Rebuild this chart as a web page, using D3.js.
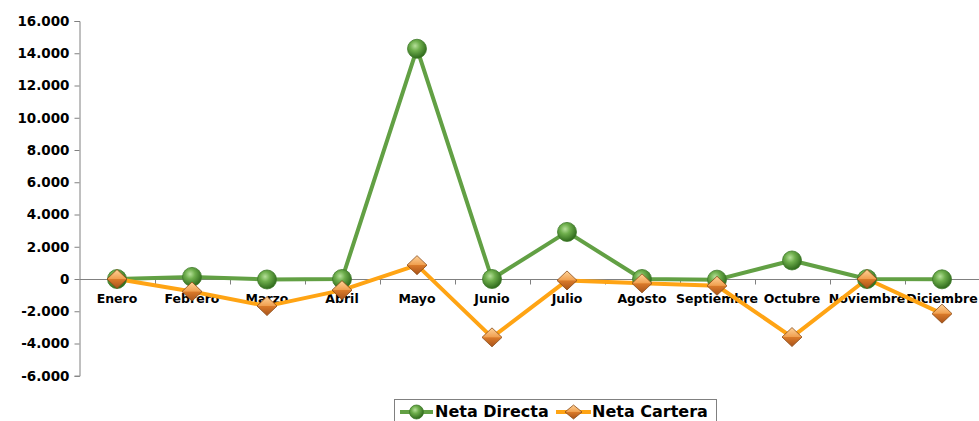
<!DOCTYPE html>
<html><head><meta charset="utf-8">
<script src="https://cdn.jsdelivr.net/npm/d3@7"></script>
<style>body{margin:0;background:#fff}svg{display:block}text{font-family:"DejaVu Sans",Verdana,sans-serif;font-weight:bold;fill:#000}</style>
</head><body><svg id="c" width="979" height="421"></svg>
<script>
const months = ["Enero","Febrero","Marzo","Abril","Mayo","Junio","Julio","Agosto","Septiembre","Octubre","Noviembre","Diciembre"];
const netaDirecta = [0, 130, -30, 0, 14280, 0, 2920, 0, -40, 1150, 0, -20];
const netaCartera = [0, -780, -1680, -690, 860, -3620, -90, -270, -420, -3600, 0, -2150];
const yTicks = [-6000,-4000,-2000,0,2000,4000,6000,8000,10000,12000,14000,16000];

const svg = d3.select("#c");
const defs = svg.append("defs");
const rg = defs.append("radialGradient").attr("id","gball").attr("cx","40%").attr("cy","35%").attr("r","65%");
rg.append("stop").attr("offset","0%").attr("stop-color","#b6e09a");
rg.append("stop").attr("offset","40%").attr("stop-color","#6eae4c");
rg.append("stop").attr("offset","100%").attr("stop-color","#2f6a1c");
const lg = defs.append("linearGradient").attr("id","gdia").attr("x1","0").attr("y1","0").attr("x2","0").attr("y2","1");
lg.append("stop").attr("offset","0%").attr("stop-color","#ffd39a");
lg.append("stop").attr("offset","48%").attr("stop-color","#f0a050");
lg.append("stop").attr("offset","52%").attr("stop-color","#d97a2a");
lg.append("stop").attr("offset","100%").attr("stop-color","#a8521a");

const x = d3.scaleBand().domain(months).range([79.5, 979.5]);
const y = d3.scaleLinear().domain([-6000,16000]).range([375.75, 21]);
const fmt = v => d3.format(",")(v).replace(/,/g,".").replace("\u2212","-");

// y axis
const ya = svg.append("g").attr("transform","translate(79.5,0)")
  .call(d3.axisLeft(y).tickValues(yTicks).tickSize(5).tickPadding(5).tickFormat(fmt));
ya.select(".domain").attr("stroke","#808080");
ya.selectAll(".tick line").attr("stroke","#808080");
ya.selectAll(".tick text").style("font-size","13.5px").attr("fill","#000");

// x axis at zero
const y0 = Math.round(y(0))+0.5;
const xa = svg.append("g").attr("transform",`translate(0,${y0})`);
xa.append("line").attr("x1",79.5).attr("x2",979.5).attr("stroke","#808080");
const bounds = months.map(m => x(m)).slice(1).concat([x.range()[1]]);
xa.selectAll("line.tk").data(bounds).join("line").attr("class","tk")
  .attr("x1",d=>Math.round(d)+0.5).attr("x2",d=>Math.round(d)+0.5).attr("y1",0).attr("y2",5).attr("stroke","#808080");
xa.selectAll("text").data(months).join("text")
  .attr("x",d=>x(d)+x.bandwidth()/2).attr("y",23).attr("text-anchor","middle")
  .style("font-size","12.5px").text(d=>d);

const cx = d => x(d)+x.bandwidth()/2;
const line = d3.line().x((d,i)=>cx(months[i])).y(d=>y(d));

svg.append("path").datum(netaDirecta).attr("d",line).attr("fill","none").attr("stroke","#62a044").attr("stroke-width",4).attr("stroke-linejoin","round");
svg.append("path").datum(netaCartera).attr("d",line).attr("fill","none").attr("stroke","#ffa414").attr("stroke-width",4).attr("stroke-linejoin","round");

function ball(g, px, py, r){
  g.append("circle").attr("cx",px).attr("cy",py).attr("r",r||9.5).attr("fill","url(#gball)").attr("stroke","#3d7a28").attr("stroke-width",0.8);
}
function diamond(g, px, py, s, t){
  s = s||10; t = t||9.5;
  g.append("path").attr("d",`M${px},${py-t}L${px+s},${py}L${px},${py+t}L${px-s},${py}Z`).attr("fill","url(#gdia)").attr("stroke","#8a4a14").attr("stroke-width",0.8);
}
const mg = svg.append("g");
netaDirecta.forEach((v,i)=>ball(mg, cx(months[i]), y(v)));
netaCartera.forEach((v,i)=>diamond(mg, cx(months[i]), y(v)));

// legend
const leg = svg.append("g");
leg.append("rect").attr("x",394.5).attr("y",399.5).attr("width",322).attr("height",30).attr("fill","#fff").attr("stroke","#808080");
leg.append("line").attr("x1",400).attr("x2",433).attr("y1",412).attr("y2",412).attr("stroke","#62a044").attr("stroke-width",4);
ball(leg, 416.5, 412, 7);
leg.append("text").attr("x",435).attr("y",417).style("font-size","16px").text("Neta Directa");
leg.append("line").attr("x1",556).attr("x2",591).attr("y1",412).attr("y2",412).attr("stroke","#ffa414").attr("stroke-width",4);
diamond(leg, 573.5, 412, 8.5, 7);
leg.append("text").attr("x",592).attr("y",417).style("font-size","16px").text("Neta Cartera");
</script></body></html>
